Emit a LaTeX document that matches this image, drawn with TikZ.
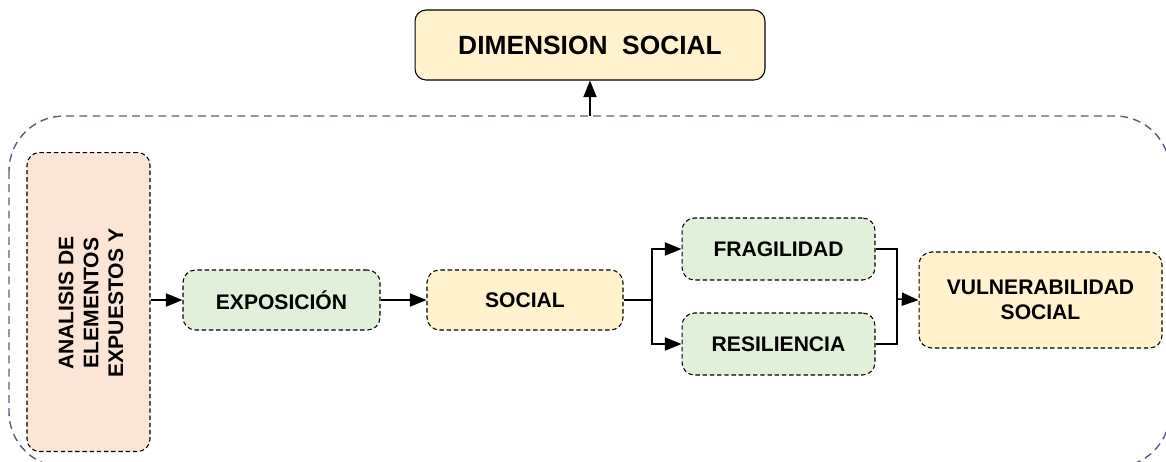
\documentclass[tikz,border=0pt]{standalone}
\usepackage{fontspec}
\setmainfont{Liberation Sans}
\usetikzlibrary{arrows.meta}
\definecolor{yellowfill}{HTML}{FFF2CC}
\definecolor{greenfill}{HTML}{E2EFDA}
\definecolor{peachfill}{HTML}{FBE5D6}
\definecolor{framecol}{HTML}{5B5B80}
\tikzset{
  stepbox/.style={draw, line width=0.6pt, dash pattern=on 2.5pt off 1.6pt, rounded corners=0.25cm, inner sep=0pt, align=center, font=\bfseries\fontsize{12}{14}\selectfont},
  link/.style={line width=0.9pt, -{Triangle[length=9.5pt,width=7.5pt]}},
  wire/.style={line width=0.9pt}
}
\begin{document}
\begin{tikzpicture}[x=0.02cm,y=-0.02cm]
\useasboundingbox (0,0) rectangle (1166,461);
% outer frame
\draw[framecol, line width=0.8pt, dash pattern=on 4.5pt off 3pt, rounded corners=1.1cm] (9,116) rectangle (1170,467);
\coordinate (frametop) at (590,116);
% boxes
\node[draw, line width=0.6pt, rounded corners=0.22cm, fill=yellowfill, minimum width=7cm, minimum height=1.4cm, font=\bfseries\fontsize{15}{18}\selectfont] (dim) at (590,45) {DIMENSION\ \ SOCIAL};
\node[stepbox, fill=peachfill, minimum width=2.46cm, minimum height=5.98cm] (ana) at (88.5,302) {};
\node[rotate=90, align=center, font=\bfseries\fontsize{12}{14.2}\selectfont] (anatext) at (91,303) {ANALISIS DE\\ELEMENTOS\\EXPUESTOS Y};
\node[stepbox, fill=greenfill, minimum width=3.94cm, minimum height=1.2cm] (expo) at (281.5,300) {EXPOSICIÓN};
\node[stepbox, fill=yellowfill, minimum width=3.92cm, minimum height=1.2cm] (soc) at (525,300) {SOCIAL};
\node[stepbox, fill=greenfill, minimum width=3.86cm, minimum height=1.24cm] (frag) at (778.5,249) {FRAGILIDAD};
\node[stepbox, fill=greenfill, minimum width=3.86cm, minimum height=1.24cm] (resi) at (778.5,344) {RESILIENCIA};
\node[stepbox, fill=yellowfill, minimum width=4.86cm, minimum height=1.92cm] (vul) at (1040.5,300) {VULNERABILIDAD\\SOCIAL};
% connectors
\draw[link] (frametop) -- (dim.south);
\draw[link] (ana.east |- expo.west) -- (expo.west);
\draw[link] (expo.east) -- (soc.west);
\coordinate (split) at (652,300);
\coordinate (join) at (897,299);
\draw[wire] (soc.east) -- (split);
\draw[link] (split) |- (frag.west);
\draw[link] (split) |- (resi.west);
\draw[wire] (frag.east) -| (join);
\draw[wire] (resi.east) -| (join);
\draw[link] (join) -- (vul.west);
\end{tikzpicture}
\end{document}
